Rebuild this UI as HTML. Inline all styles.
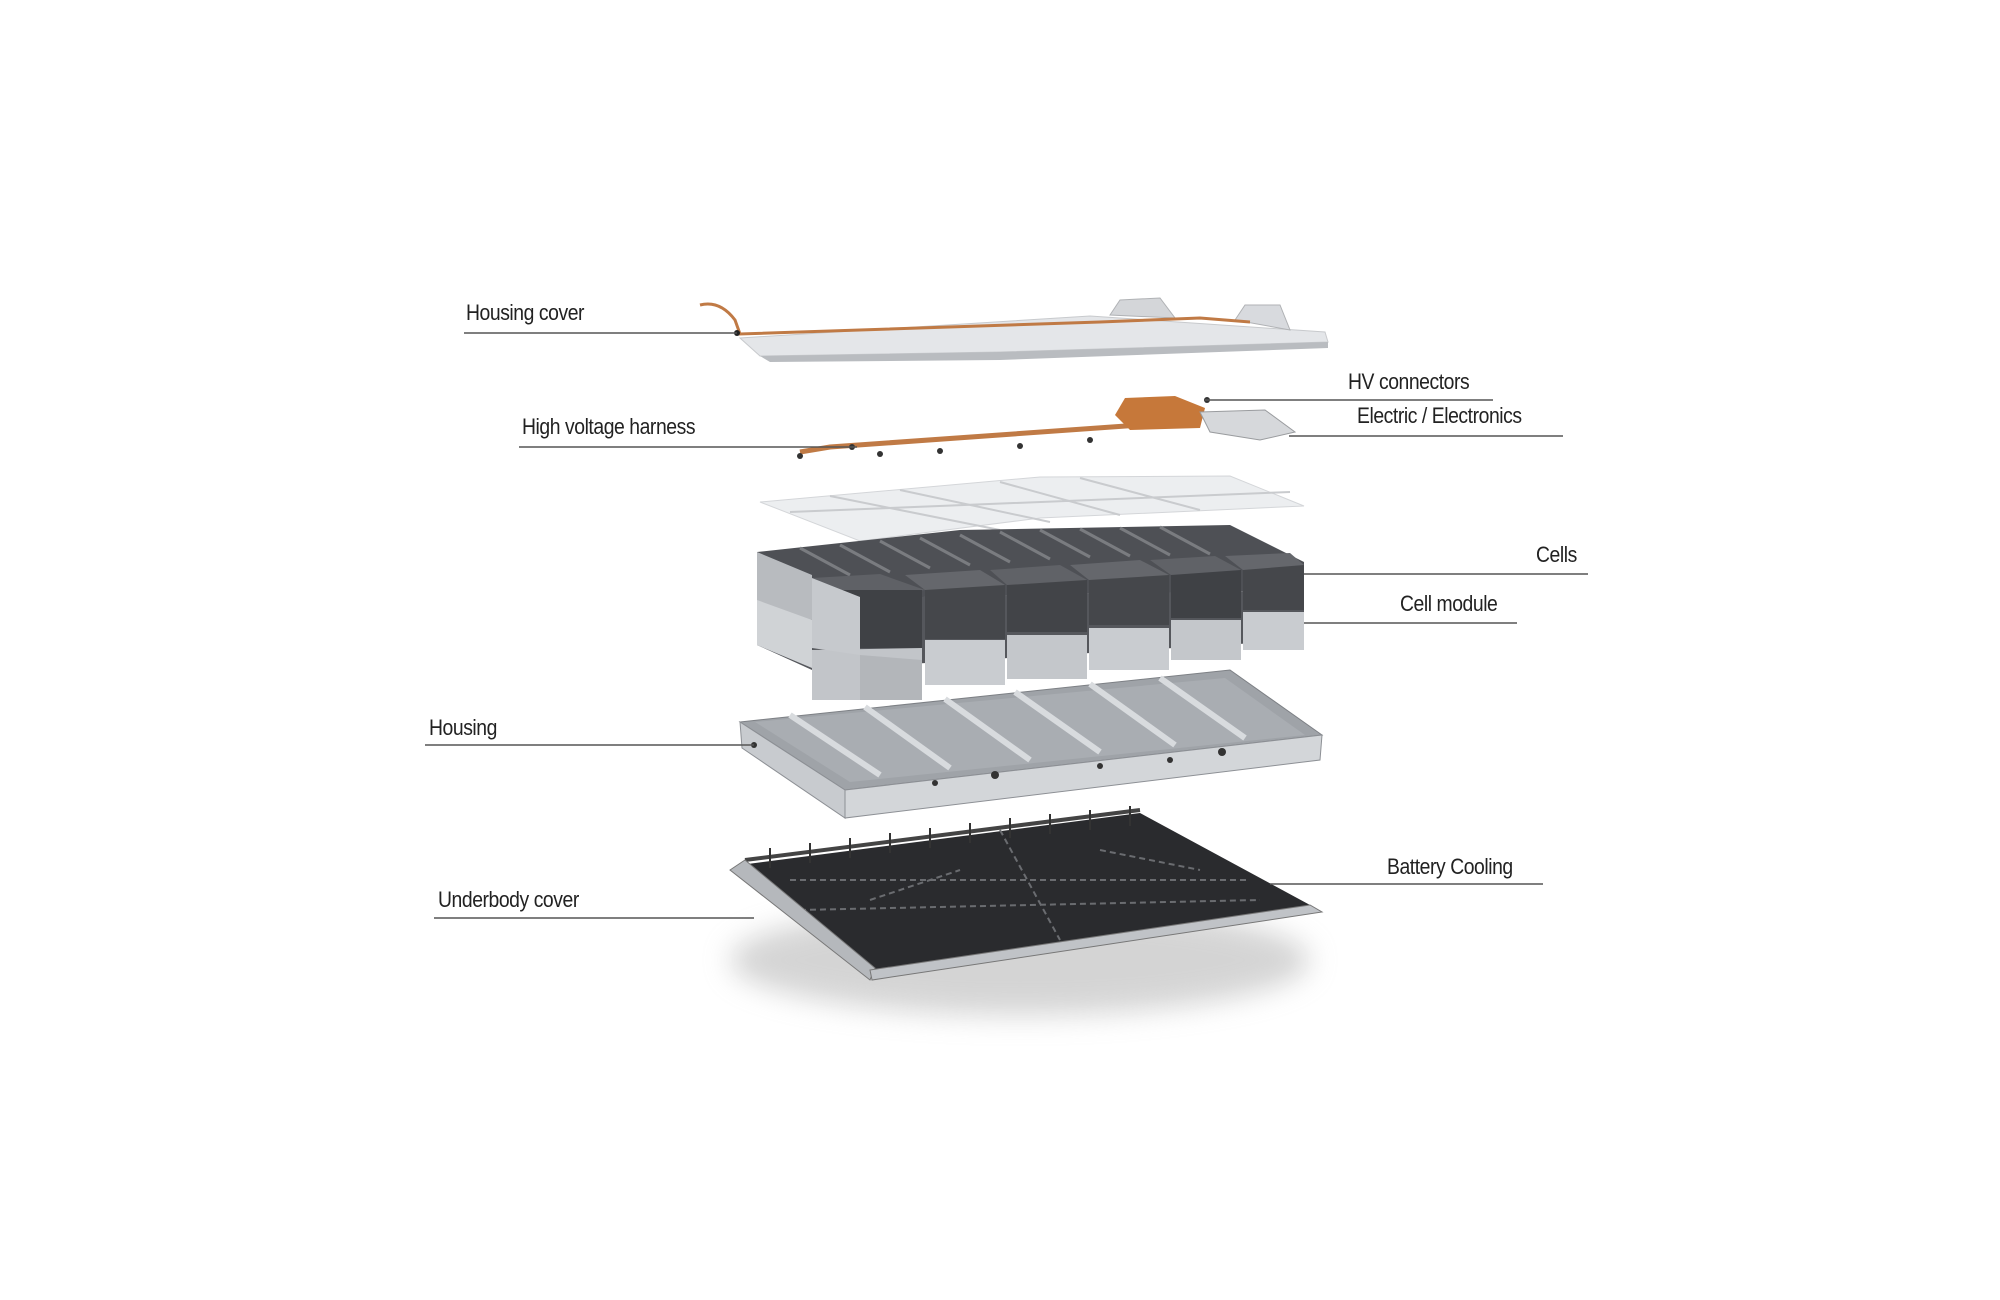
<!DOCTYPE html>
<html><head><meta charset="utf-8"><style>
html,body{margin:0;padding:0;background:#fff;}
.wrap{position:relative;width:2000px;height:1300px;overflow:hidden;font-family:"Liberation Sans",sans-serif;}
.t{position:absolute;font-size:22px;color:#222;letter-spacing:-0.5px;white-space:nowrap;transform:scaleX(0.88);transform-origin:left center;}
</style></head><body><div class="wrap">
<svg width="2000" height="1300" viewBox="0 0 2000 1300" style="position:absolute;left:0;top:0">
<defs>
<filter id="bl" x="-20%" y="-50%" width="140%" height="200%"><feGaussianBlur stdDeviation="14"/></filter>
</defs>
<!-- Housing cover -->
<polygon points="740,338 1090,316 1325,332 1328,342 1000,352 760,356" fill="#e4e6e9" stroke="#c8cacd"/>
<polygon points="760,356 1000,352 1328,342 1328,348 1000,360 770,362" fill="#b9bcc0"/>
<polygon points="1110,315 1120,300 1160,298 1175,318" fill="#d4d6d9" stroke="#b0b2b5"/>
<polygon points="1235,320 1245,305 1280,305 1290,330" fill="#d8dade" stroke="#b0b2b5"/>
<path d="M700,305 Q720,300 735,320 L740,334 L1100,322 L1200,318 L1250,322" fill="none" stroke="#c07a45" stroke-width="3"/>
<circle cx="737" cy="333" r="3" fill="#222"/>
<!-- HV harness -->
<path d="M800,452 L830,447 L1140,425 L1200,420" fill="none" stroke="#c07a45" stroke-width="5"/>
<polygon points="1115,415 1125,398 1175,396 1205,408 1200,428 1130,430" fill="#c6783a"/>
<polygon points="1200,412 1265,410 1295,432 1260,440 1210,432" fill="#d6d8db" stroke="#9a9c9f"/>
<g fill="#333"><circle cx="852" cy="447" r="3"/><circle cx="800" cy="456" r="3"/><circle cx="880" cy="454" r="3"/><circle cx="940" cy="451" r="3"/><circle cx="1020" cy="446" r="3"/><circle cx="1090" cy="440" r="3"/><circle cx="1207" cy="400" r="3"/></g>
<!-- Plates -->
<polygon points="760,502 1040,477 1230,476 1304,506 1040,518 860,541" fill="#eceef0" stroke="#d4d6d9"/>
<path d="M830,496 L1000,530 M900,490 L1050,522 M1000,482 L1120,515 M1080,478 L1200,510 M790,512 L1290,492" stroke="#c9cbce" stroke-width="2" fill="none"/>
<!-- Lower layer (behind) -->
<polygon points="757,600 1304,590 1304,640 812,670 757,645" fill="#55575c"/>
<polygon points="757,590 812,620 812,668 757,645" fill="#d0d3d6"/>
<polygon points="812,650 922,648 922,700 812,700" fill="#c2c5c9"/>
<polygon points="860,655 860,700 922,700 922,660" fill="#b3b6ba"/>
<rect x="925" y="640" width="80" height="45" fill="#c9ccd0"/>
<rect x="1007" y="635" width="80" height="44" fill="#c4c7cb"/>
<rect x="1089" y="628" width="80" height="42" fill="#c9ccd0"/>
<rect x="1171" y="620" width="70" height="40" fill="#c4c7cb"/>
<rect x="1243" y="612" width="61" height="38" fill="#c9ccd0"/>
<!-- Cells top layer back -->
<polygon points="757,552 960,530 1230,525 1304,562 1304,590 757,600" fill="#4e5055"/>
<path d="M800,548 L850,575 M840,545 L890,572 M880,541 L930,568 M920,538 L970,565 M960,535 L1010,562 M1000,532 L1050,559 M1040,530 L1090,557 M1080,529 L1130,556 M1120,528 L1170,555 M1160,527 L1210,554" stroke="#7a7c80" stroke-width="3"/>
<polygon points="757,552 757,600 812,620 812,575" fill="#b8bbbf"/>
<!-- Front row top blocks -->
<g>
<polygon points="812,578 880,574 925,590 860,597" fill="#5f6166"/><rect x="812" y="590" width="110" height="58" fill="#3f4145"/>
<polygon points="812,578 812,648 860,655 860,597" fill="#c6c9cd"/>
<rect x="925" y="585" width="80" height="54" fill="#45474b"/><polygon points="905,575 980,570 1005,585 925,590" fill="#65676c"/>
<rect x="1007" y="580" width="80" height="52" fill="#424448"/><polygon points="990,570 1060,565 1087,580 1007,585" fill="#606267"/>
<rect x="1089" y="575" width="80" height="50" fill="#45474b"/><polygon points="1070,565 1140,560 1169,575 1089,580" fill="#65676c"/>
<rect x="1171" y="570" width="70" height="48" fill="#3f4145"/><polygon points="1150,560 1215,556 1241,570 1171,575" fill="#606267"/>
<rect x="1243" y="565" width="61" height="45" fill="#45474b"/><polygon points="1225,556 1290,553 1304,565 1243,570" fill="#65676c"/>
</g>
<!-- Housing tray -->
<polygon points="740,722 1230,670 1322,735 845,790" fill="#9fa3a8" stroke="#7d8085"/>
<polygon points="755,722 1225,678 1305,735 850,782" fill="#a9adb2"/>
<g stroke="#d8dbde" stroke-width="6"><line x1="790" y1="715" x2="880" y2="775"/><line x1="865" y1="707" x2="950" y2="768"/><line x1="945" y1="699" x2="1030" y2="760"/><line x1="1015" y1="692" x2="1100" y2="752"/><line x1="1090" y1="684" x2="1175" y2="745"/><line x1="1160" y1="678" x2="1245" y2="738"/></g>
<polygon points="740,722 845,790 845,818 742,748" fill="#c8cbcf" stroke="#8d9095"/>
<polygon points="845,790 1322,735 1320,760 845,818" fill="#d3d6d9" stroke="#8d9095"/>
<g fill="#333"><circle cx="754" cy="745" r="3"/><circle cx="995" cy="775" r="4"/><circle cx="1222" cy="752" r="4"/><circle cx="1100" cy="766" r="3"/><circle cx="1170" cy="760" r="3"/><circle cx="935" cy="783" r="3"/></g>
<!-- Underbody -->
<ellipse cx="1020" cy="960" rx="290" ry="55" fill="#aaa" opacity="0.5" filter="url(#bl)"/>
<polygon points="740,865 1140,813 1310,905 870,970" fill="#2a2b2e"/>
<g stroke="#6a6c70" stroke-width="2" stroke-dasharray="6 4" fill="none"><path d="M790,880 L1250,880"/><path d="M800,910 L1260,900"/><path d="M1000,830 L1060,940"/><path d="M870,900 L960,870"/><path d="M1100,850 L1200,870"/></g>
<path d="M745,860 L1140,810" stroke="#444" stroke-width="4" fill="none"/>
<g stroke="#333" stroke-width="2"><line x1="770" y1="848" x2="770" y2="868"/><line x1="810" y1="843" x2="810" y2="863"/><line x1="850" y1="838" x2="850" y2="858"/><line x1="890" y1="833" x2="890" y2="853"/><line x1="930" y1="828" x2="930" y2="848"/><line x1="970" y1="823" x2="970" y2="843"/><line x1="1010" y1="818" x2="1010" y2="838"/><line x1="1050" y1="814" x2="1050" y2="834"/><line x1="1090" y1="810" x2="1090" y2="830"/><line x1="1130" y1="806" x2="1130" y2="826"/></g>
<polygon points="730,870 745,860 875,968 870,980" fill="#b5b8bc" stroke="#777"/>
<polygon points="870,970 1310,905 1322,912 872,980" fill="#c0c3c7" stroke="#777"/>
<!-- leader lines -->
<g stroke="#555" stroke-width="1.6">
<line x1="464" y1="333" x2="737" y2="333"/>
<line x1="1205" y1="400" x2="1493" y2="400"/>
<line x1="1289" y1="436" x2="1563" y2="436"/>
<line x1="519" y1="447" x2="857" y2="447"/>
<line x1="1304" y1="574" x2="1588" y2="574"/>
<line x1="1304" y1="623" x2="1517" y2="623"/>
<line x1="425" y1="745" x2="754" y2="745"/>
<line x1="1270" y1="884" x2="1543" y2="884"/>
<line x1="434" y1="918" x2="754" y2="918"/>
</g>
</svg>
<div class="t" style="left:466px;top:300px">Housing cover</div>
<div class="t" style="left:1348px;top:369px">HV connectors</div>
<div class="t" style="left:1357px;top:403px">Electric / Electronics</div>
<div class="t" style="left:522px;top:414px">High voltage harness</div>
<div class="t" style="left:1536px;top:542px">Cells</div>
<div class="t" style="left:1400px;top:591px">Cell module</div>
<div class="t" style="left:429px;top:715px">Housing</div>
<div class="t" style="left:1387px;top:854px">Battery Cooling</div>
<div class="t" style="left:438px;top:887px">Underbody cover</div>
</div></body></html>
